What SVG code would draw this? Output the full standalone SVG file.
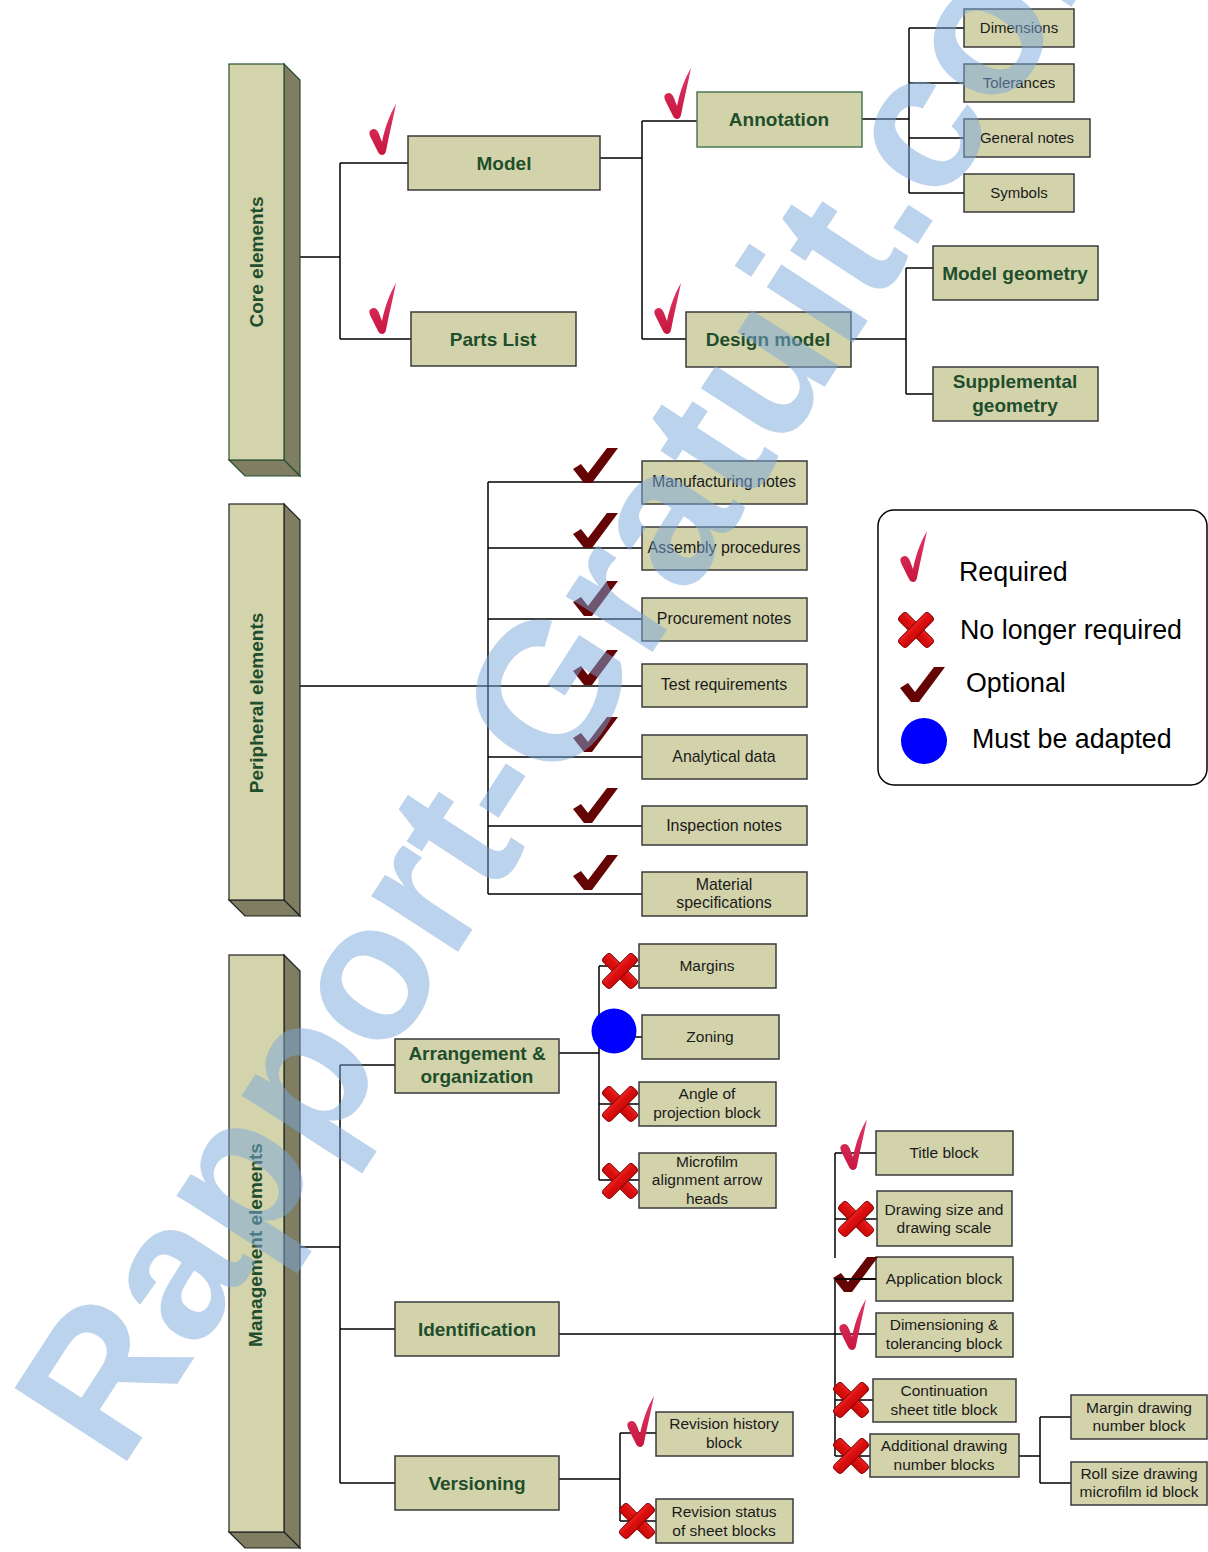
<svg xmlns="http://www.w3.org/2000/svg" width="1208" height="1552" viewBox="0 0 1208 1552">
<style>
.box{fill:#d3d3ab;stroke:#3a3a3a;stroke-width:1.5}
.gbox{fill:#d3d3ab;stroke:#4b7a52;stroke-width:1.5}
.lbl{font-family:'Liberation Sans',Arial,sans-serif;font-size:15.5px;fill:#1a1a1a;text-anchor:middle}
.sm{font-size:15px}
.pl{font-size:15.9px}
.big{font-family:'Liberation Sans',Arial,sans-serif;font-size:19px;font-weight:bold;fill:#1f4e2c;text-anchor:middle}
.leg{font-family:'Liberation Sans',Arial,sans-serif;font-size:26.8px;fill:#000}
.conn{stroke:#000;stroke-width:1.5;fill:none}
.front{fill:#d3d3ac}
.side{fill:#7f7e62}
.req{fill:url(#reqG)}
.opt{fill:#640404}
.wm{font-family:'Liberation Sans',Arial,sans-serif;font-size:195px;font-weight:bold;fill:#7aa7dc;fill-opacity:0.5}
</style>
<defs>
<linearGradient id="reqG" x1="0" y1="-50" x2="0" y2="0" gradientUnits="userSpaceOnUse">
<stop offset="0" stop-color="#e0386a"/><stop offset="1" stop-color="#c8163e"/>
</linearGradient>
<linearGradient id="xG" x1="0" y1="-18" x2="0" y2="18" gradientUnits="userSpaceOnUse">
<stop offset="0" stop-color="#ff7a7a"/><stop offset="0.45" stop-color="#e01010"/><stop offset="1" stop-color="#a00000"/>
</linearGradient>
<path id="reqCheck" class="req" d="M-11,-25 C-8,-27 -5,-26 -3,-21 L0,-13 C3,-28 8,-41 14,-51 C11,-36 7,-20 4,-4 C3,1 -2,1 -4,-3 L-12,-19 C-13,-22 -13,-24 -11,-25 Z"/>
<path id="optCheck" class="opt" d="M-14,-14 L-6,-19 L1,-10 L20,-35 L31,-35 L5,0 L-3,0 Z"/>
<g id="xMark" fill="url(#xG)" stroke="#8a0000" stroke-width="1">
<rect x="-21" y="-5.5" width="42" height="11" rx="3.5" transform="rotate(45)"/>
<rect x="-21" y="-5.5" width="42" height="11" rx="3.5" transform="rotate(-45)"/>
</g>
</defs>
<rect width="1208" height="1552" fill="#fff"/>

<g id="connectors" class="conn">
<path d="M296,257 H340 M340,163 V339 M340,163 H408 M340,339 H411"/>
<path d="M600,158 H642 M642,121 V339 M642,121 H697 M642,339 H686"/>
<path d="M862,119 H909 M909,28 V193 M909,28 H964 M909,83 H964 M909,138 H964 M909,193 H964"/>
<path d="M851,339 H906 M906,268 V394 M906,268 H933 M906,394 H933"/>
<path d="M296,686 H642 M488,482 V894 M488,482 H642 M488,548 H642 M488,619 H642 M488,757 H642 M488,826 H642 M488,894 H642"/>
<path d="M296,1247 H340 M340,1065 V1483 M340,1065 H395 M340,1329 H395 M340,1483 H395"/>
<path d="M559,1053 H599 M599,966 V1180 M599,966 H639 M599,1037 H642 M599,1104 H639 M599,1180 H639"/>
<path d="M559,1334 H876 M835,1153 V1456 M835,1153 H876 M835,1219 H877 M835,1279 H876 M835,1400 H873 M835,1456 H870"/>
<path d="M1019,1456 H1040 M1040,1417 V1483 M1040,1417 H1071 M1040,1483 H1071"/>
<path d="M559,1479 H620 M620,1433 V1521 M620,1433 H656 M620,1521 H656"/>
</g>

<g id="core-elements">
<polygon class="side" points="284,64 300,80 300,476 284,460" stroke="#28502f" stroke-width="1.2"/>
<polygon class="side" points="229,460 284,460 300,476 245,476" stroke="#28502f" stroke-width="1.2"/>
<rect class="front" x="229" y="64" width="55" height="396" stroke="#28502f" stroke-width="1.2"/>
<text class="big" transform="translate(263,262) rotate(-90)">Core elements</text>
</g>
<g id="peripheral-elements">
<polygon class="side" points="284,504 300,520 300,916 284,900" stroke="#222" stroke-width="1.2"/>
<polygon class="side" points="229,900 284,900 300,916 245,916" stroke="#222" stroke-width="1.2"/>
<rect class="front" x="229" y="504" width="55" height="396" stroke="#222" stroke-width="1.2"/>
<text class="big" transform="translate(263,703) rotate(-90)">Peripheral elements</text>
</g>
<g id="management-elements">
<polygon class="side" points="284,955 300,971 300,1548 284,1532" stroke="#222" stroke-width="1.2"/>
<polygon class="side" points="229,1532 284,1532 300,1548 245,1548" stroke="#222" stroke-width="1.2"/>
<rect class="front" x="229" y="955" width="55" height="577" stroke="#222" stroke-width="1.2"/>
<text class="big" transform="translate(262,1245) rotate(-90)">Management elements</text>
</g>

<g id="model"><rect class="box" x="408" y="136" width="192" height="54"/><text class="big" x="504" y="170">Model</text></g>
<g id="parts-list"><rect class="box" x="411" y="312" width="165" height="54"/><text class="big" x="493" y="346">Parts List</text></g>
<g id="annotation"><rect class="gbox" x="697" y="92" width="165" height="55"/><text class="big" x="779" y="126">Annotation</text></g>
<g id="design-model"><rect class="box" x="686" y="312" width="165" height="55"/><text class="big" x="768" y="346">Design model</text></g>
<g id="dimensions"><rect class="box" x="964" y="9" width="110" height="38"/><text class="lbl sm" x="1019" y="33">Dimensions</text></g>
<g id="tolerances"><rect class="box" x="964" y="64" width="110" height="38"/><text class="lbl sm" x="1019" y="88">Tolerances</text></g>
<g id="general-notes"><rect class="box" x="964" y="119" width="126" height="38"/><text class="lbl sm" x="1027" y="143">General notes</text></g>
<g id="symbols"><rect class="box" x="964" y="174" width="110" height="38"/><text class="lbl sm" x="1019" y="198">Symbols</text></g>
<g id="model-geometry"><rect class="box" x="933" y="246" width="165" height="54"/><text class="big" x="1015" y="280">Model geometry</text></g>
<g id="supplemental-geometry"><rect class="box" x="933" y="367" width="165" height="54"/><text class="big" x="1015" y="388">Supplemental</text><text class="big" x="1015" y="412">geometry</text></g>

<g id="manufacturing-notes"><rect class="box" x="642" y="461" width="165" height="43"/><text class="lbl pl" x="724" y="487">Manufacturing notes</text></g>
<g id="assembly-procedures"><rect class="box" x="642" y="527" width="165" height="43"/><text class="lbl pl" x="724" y="553">Assembly procedures</text></g>
<g id="procurement-notes"><rect class="box" x="642" y="598" width="165" height="43"/><text class="lbl pl" x="724" y="624">Procurement notes</text></g>
<g id="test-requirements"><rect class="box" x="642" y="664" width="165" height="43"/><text class="lbl pl" x="724" y="690">Test requirements</text></g>
<g id="analytical-data"><rect class="box" x="642" y="735" width="165" height="44"/><text class="lbl pl" x="724" y="762">Analytical data</text></g>
<g id="inspection-notes"><rect class="box" x="642" y="806" width="165" height="39"/><text class="lbl pl" x="724" y="831">Inspection notes</text></g>
<g id="material-specifications"><rect class="box" x="642" y="872" width="165" height="44"/><text class="lbl pl" x="724" y="890">Material</text><text class="lbl pl" x="724" y="908">specifications</text></g>

<g id="arrangement"><rect class="box" x="395" y="1039" width="164" height="54"/><text class="big" x="477" y="1060">Arrangement &amp;</text><text class="big" x="477" y="1083">organization</text></g>
<g id="identification"><rect class="box" x="395" y="1302" width="164" height="54"/><text class="big" x="477" y="1336">Identification</text></g>
<g id="versioning"><rect class="box" x="395" y="1456" width="164" height="54"/><text class="big" x="477" y="1490">Versioning</text></g>

<g id="margins"><rect class="box" x="639" y="944" width="137" height="44"/><text class="lbl" x="707" y="971">Margins</text></g>
<g id="zoning"><rect class="box" x="642" y="1015" width="137" height="44"/><text class="lbl" x="710" y="1042">Zoning</text></g>
<g id="angle-of-projection"><rect class="box" x="639" y="1082" width="137" height="44"/><text class="lbl" x="707" y="1099">Angle of</text><text class="lbl" x="707" y="1118">projection block</text></g>
<g id="microfilm-alignment"><rect class="box" x="639" y="1153" width="137" height="55"/><text class="lbl" x="707" y="1167">Microfilm</text><text class="lbl" x="707" y="1185">alignment arrow</text><text class="lbl" x="707" y="1204">heads</text></g>

<g id="title-block"><rect class="box" x="876" y="1131" width="137" height="44"/><text class="lbl" x="944" y="1158">Title block</text></g>
<g id="drawing-size"><rect class="box" x="877" y="1191" width="135" height="55"/><text class="lbl" x="944" y="1215">Drawing size and</text><text class="lbl" x="944" y="1233">drawing scale</text></g>
<g id="application-block"><rect class="box" x="876" y="1257" width="137" height="44"/><text class="lbl" x="944" y="1284">Application block</text></g>
<g id="dimensioning-tolerancing"><rect class="box" x="876" y="1313" width="137" height="44"/><text class="lbl" x="944" y="1330">Dimensioning &amp;</text><text class="lbl" x="944" y="1349">tolerancing block</text></g>
<g id="continuation-sheet"><rect class="box" x="873" y="1379" width="143" height="43"/><text class="lbl" x="944" y="1396">Continuation</text><text class="lbl" x="944" y="1415">sheet title block</text></g>
<g id="additional-drawing"><rect class="box" x="870" y="1434" width="149" height="43"/><text class="lbl" x="944" y="1451">Additional drawing</text><text class="lbl" x="944" y="1470">number blocks</text></g>
<g id="margin-drawing-number"><rect class="box" x="1071" y="1395" width="136" height="44"/><text class="lbl" x="1139" y="1413">Margin drawing</text><text class="lbl" x="1139" y="1431">number block</text></g>
<g id="roll-size-drawing"><rect class="box" x="1071" y="1462" width="136" height="43"/><text class="lbl" x="1139" y="1479">Roll size drawing</text><text class="lbl" x="1139" y="1497">microfilm id block</text></g>
<g id="revision-history"><rect class="box" x="656" y="1412" width="137" height="44"/><text class="lbl" x="724" y="1429">Revision history</text><text class="lbl" x="724" y="1448">block</text></g>
<g id="revision-status"><rect class="box" x="656" y="1499" width="137" height="44"/><text class="lbl" x="724" y="1517">Revision status</text><text class="lbl" x="724" y="1536">of sheet blocks</text></g>

<g id="status-icons">
<use href="#reqCheck" x="382" y="155"/>
<use href="#reqCheck" x="382" y="334"/>
<use href="#reqCheck" x="677" y="119"/>
<use href="#reqCheck" x="667" y="334"/>
<use href="#optCheck" x="587" y="483"/>
<use href="#optCheck" x="587" y="548"/>
<use href="#optCheck" x="587" y="616"/>
<use href="#optCheck" x="587" y="685"/>
<use href="#optCheck" x="587" y="752"/>
<use href="#optCheck" x="587" y="823"/>
<use href="#optCheck" x="587" y="890"/>
<use href="#xMark" x="620" y="971"/>
<circle cx="614" cy="1031" r="22.5" fill="#0000ff"/>
<use href="#xMark" x="620" y="1104"/>
<use href="#xMark" x="620" y="1181"/>
<use href="#reqCheck" x="853" y="1170"/>
<use href="#xMark" x="856" y="1219"/>
<rect x="833" y="1258" width="42" height="20" fill="#fff"/>
<use href="#optCheck" x="847" y="1292"/>
<path class="conn" d="M835,1279 H876"/>
<use href="#reqCheck" x="852" y="1350"/>
<use href="#xMark" x="851" y="1400"/>
<use href="#xMark" x="851" y="1456"/>
<use href="#reqCheck" x="640" y="1447"/>
<use href="#xMark" x="637" y="1521"/>
</g>

<g id="legend">
<rect x="878" y="510" width="329" height="275" rx="16" fill="#fff" stroke="#000" stroke-width="1.5"/>
<use href="#reqCheck" x="913" y="582"/>
<text class="leg" x="959" y="581">Required</text>
<use href="#xMark" x="916" y="630"/>
<text class="leg" x="960" y="639">No longer required</text>
<use href="#optCheck" x="914" y="702"/>
<text class="leg" x="966" y="692">Optional</text>
<circle cx="924" cy="741" r="23" fill="#0000ff"/>
<text class="leg" x="972" y="748">Must be adapted</text>
</g>

<g id="watermark">
<text class="wm" transform="translate(120,1472) rotate(-57)">Rapport-Gratuit.com</text>
</g>
</svg>
